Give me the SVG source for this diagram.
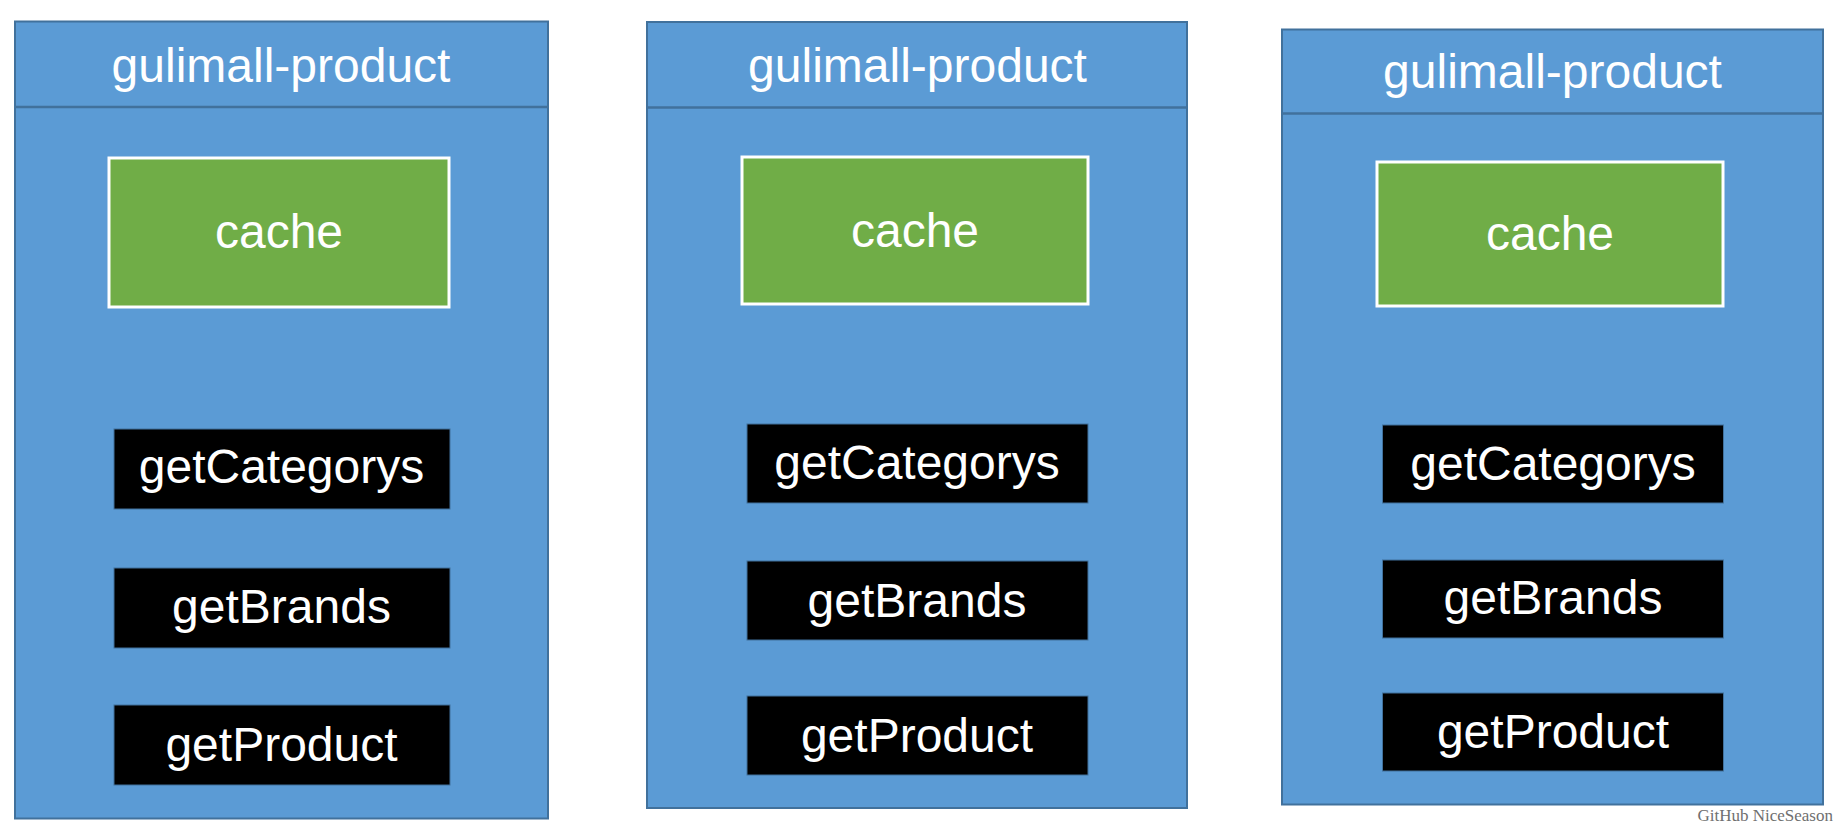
<svg xmlns="http://www.w3.org/2000/svg" width="1834" height="828" viewBox="0 0 1834 828">
<style>
.panel{fill:#5B9BD5;stroke:#41719C;stroke-width:2}
.div{stroke:#41719C;stroke-width:2.5}
.cache{fill:#70AD47;stroke:#FFFFFF;stroke-width:3}
.fn{fill:#000000;stroke:#41719C;stroke-width:1}
.t{font-family:"Liberation Sans",Arial,sans-serif;font-size:48px;fill:#FFFFFF;text-anchor:middle}
.wm{font-family:"Liberation Serif","Times New Roman",serif;font-size:17px;fill:#6F6F6F;text-anchor:end}
</style>
<rect width="1834" height="828" fill="#FFFFFF"/>
<g id="panel1">
<rect class="panel" x="15" y="21.5" width="533" height="797"/>
<line class="div" x1="15" y1="107" x2="548" y2="107"/>
<text class="t" x="281" y="82">gulimall-product</text>
<g id="cache1"><rect class="cache" x="109" y="158" width="340" height="149"/><text class="t" x="279" y="248">cache</text></g>
<g id="getCategorys1"><rect class="fn" x="114" y="429" width="336" height="80"/><text class="t" x="281.5" y="483">getCategorys</text></g>
<g id="getBrands1"><rect class="fn" x="114" y="568" width="336" height="80"/><text class="t" x="281.5" y="623">getBrands</text></g>
<g id="getProduct1"><rect class="fn" x="114" y="705" width="336" height="80"/><text class="t" x="281.5" y="761">getProduct</text></g>
</g>
<g id="panel2">
<rect class="panel" x="647" y="22" width="540" height="786"/>
<line class="div" x1="647" y1="107.5" x2="1187" y2="107.5"/>
<text class="t" x="917.5" y="82">gulimall-product</text>
<g id="cache2"><rect class="cache" x="742" y="157" width="346" height="147"/><text class="t" x="915" y="247">cache</text></g>
<g id="getCategorys2"><rect class="fn" x="747" y="424" width="341" height="79"/><text class="t" x="917" y="479">getCategorys</text></g>
<g id="getBrands2"><rect class="fn" x="747" y="561" width="341" height="79"/><text class="t" x="917" y="617">getBrands</text></g>
<g id="getProduct2"><rect class="fn" x="747" y="696" width="341" height="79"/><text class="t" x="917" y="752">getProduct</text></g>
</g>
<g id="panel3">
<rect class="panel" x="1282" y="29.5" width="541" height="775"/>
<line class="div" x1="1282" y1="113.5" x2="1823" y2="113.5"/>
<text class="t" x="1552.5" y="88">gulimall-product</text>
<g id="cache3"><rect class="cache" x="1377" y="162" width="346" height="144"/><text class="t" x="1550" y="250">cache</text></g>
<g id="getCategorys3"><rect class="fn" x="1382.5" y="425" width="341" height="78"/><text class="t" x="1553" y="480">getCategorys</text></g>
<g id="getBrands3"><rect class="fn" x="1382.5" y="560" width="341" height="78"/><text class="t" x="1553" y="614">getBrands</text></g>
<g id="getProduct3"><rect class="fn" x="1382.5" y="693" width="341" height="78"/><text class="t" x="1553" y="748">getProduct</text></g>
</g>
<g id="connectors"></g>
<text class="wm" x="1833" y="821">GitHub NiceSeason</text>
</svg>
